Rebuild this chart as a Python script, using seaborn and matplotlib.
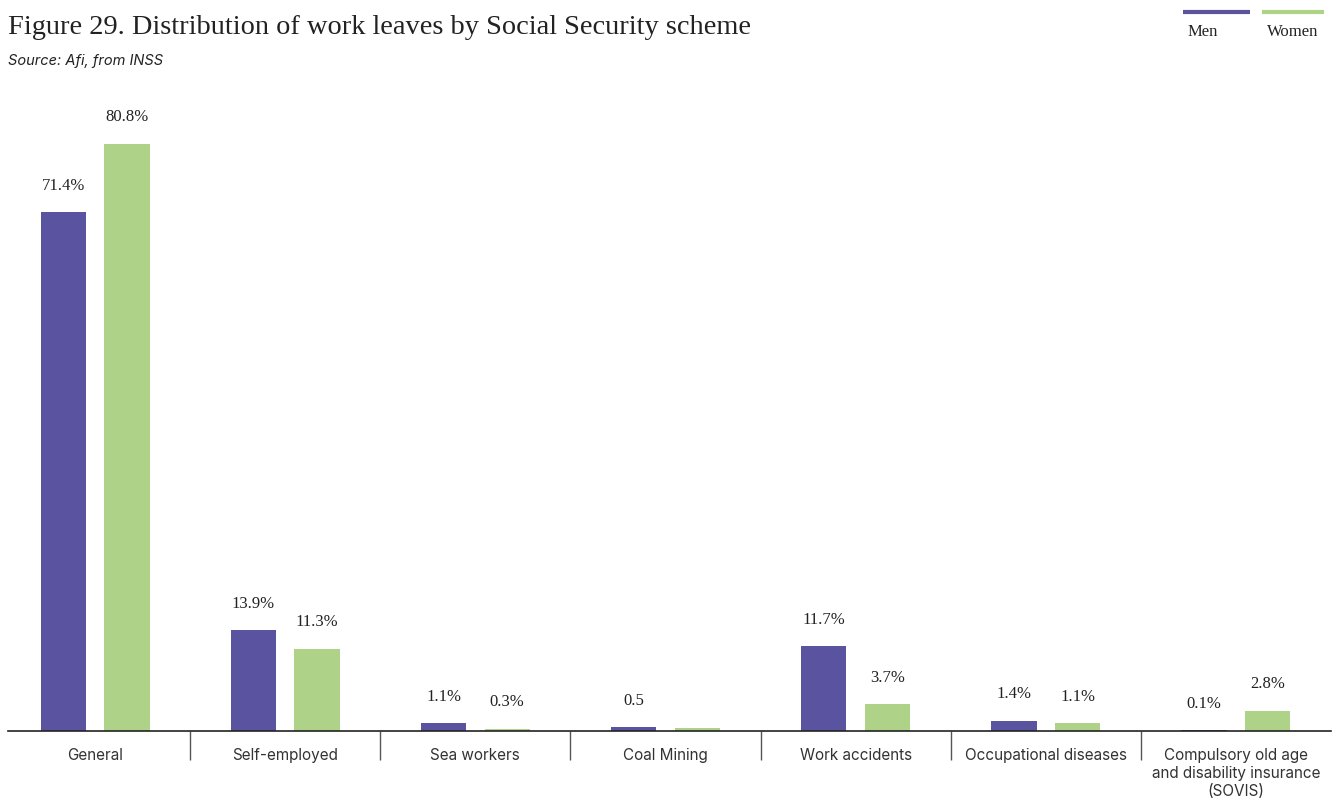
import matplotlib
matplotlib.use("Agg")
import matplotlib.pyplot as plt
from matplotlib.lines import Line2D
import seaborn as sns
import pandas as pd

# Data
categories = [
    "General",
    "Self-employed",
    "Sea workers",
    "Coal Mining",
    "Work accidents",
    "Occupational diseases",
    "Compulsory old age\nand disability insurance\n(SOVIS)",
]
men = [71.4, 13.9, 1.1, 0.5, 11.7, 1.4, 0.1]
women = [80.8, 11.3, 0.3, 0.4, 3.7, 1.1, 2.8]
men_labels = ["71.4%", "13.9%", "1.1%", "0.5", "11.7%", "1.4%", "0.1%"]
women_labels = ["80.8%", "11.3%", "0.3%", "", "3.7%", "1.1%", "2.8%"]
series = ["Men", "Women"]

MEN_COLOR = "#5A539F"
WOMEN_COLOR = "#AED287"
TEXT = "#222222"

df = pd.DataFrame({
    "category": categories * 2,
    "value": men + women,
    "sex": [series[0]] * len(categories) + [series[1]] * len(categories),
})

sns.set_theme(style="white")
plt.rcParams["font.family"] = ["DejaVu Sans"]

fig = plt.figure(figsize=(13.33, 8.01), dpi=100)
ax = fig.add_axes([0.0, 70 / 801, 1331 / 1333, 654 / 801])

sns.barplot(
    data=df, x="category", y="value", hue="sex",
    order=categories, hue_order=series,
    palette=[MEN_COLOR, WOMEN_COLOR],
    width=0.67, gap=0.29, saturation=1, legend=False, ax=ax,
    linewidth=0, edgecolor="none",
)

ax.set_xlim(-0.5, 6.5)
ax.set_ylim(0, 90)
ax.set_xlabel("")
ax.set_ylabel("")
ax.set_yticks([])
for s in ["top", "right", "left"]:
    ax.spines[s].set_visible(False)
ax.spines["bottom"].set_color("#222222")
ax.spines["bottom"].set_linewidth(1.2)
ax.spines["bottom"].set_bounds(-0.5 + 8 / 190, 6.5)

# Category labels and group separators
ax.set_xticks(range(len(categories)))
ax.set_xticklabels(categories, fontfamily="Inter", fontsize=11, color="#333333",
                   va="top", linespacing=1.25)
ax.tick_params(axis="x", which="major", length=0, pad=12)
ax.set_xticks([i + 0.5 for i in range(len(categories) - 1)], minor=True)
ax.tick_params(axis="x", which="minor", bottom=True, length=21, width=1.0,
               color="#555555", direction="out")

# Value labels above bars
for container, labels in zip(ax.containers, [men_labels, women_labels]):
    for bar, lab in zip(container, labels):
        if not lab:
            continue
        ax.annotate(lab, (bar.get_x() + bar.get_width() / 2, bar.get_height()),
                    xytext=(0, 19), textcoords="offset points",
                    ha="center", va="center", fontsize=12,
                    fontfamily="Liberation Serif", color=TEXT)

# Title and source
fig.text(8 / 1333, 1 - 28 / 801, "Figure 29. Distribution of work leaves by Social Security scheme",
         fontsize=20.4, fontfamily="Liberation Serif", color=TEXT, va="center", ha="left")
fig.text(8 / 1333, 1 - 61 / 801, "Source: Afi, from INSS",
         fontsize=10.5, fontfamily="Inter", style="italic", color=TEXT, va="center", ha="left")

# Legend: coloured rule above each series name
for (x0, x1), name, col in zip([(1183, 1250), (1262, 1324)], series, [MEN_COLOR, WOMEN_COLOR]):
    fig.add_artist(Line2D([x0 / 1333, x1 / 1333], [1 - 12 / 801] * 2,
                          color=col, linewidth=3, solid_capstyle="butt"))
    fig.text((x0 + 5) / 1333, 1 - 32 / 801, name, fontsize=12,
             fontfamily="Liberation Serif", color=TEXT, ha="left", va="center")

fig.savefig("out.png", dpi=100, facecolor="white")
